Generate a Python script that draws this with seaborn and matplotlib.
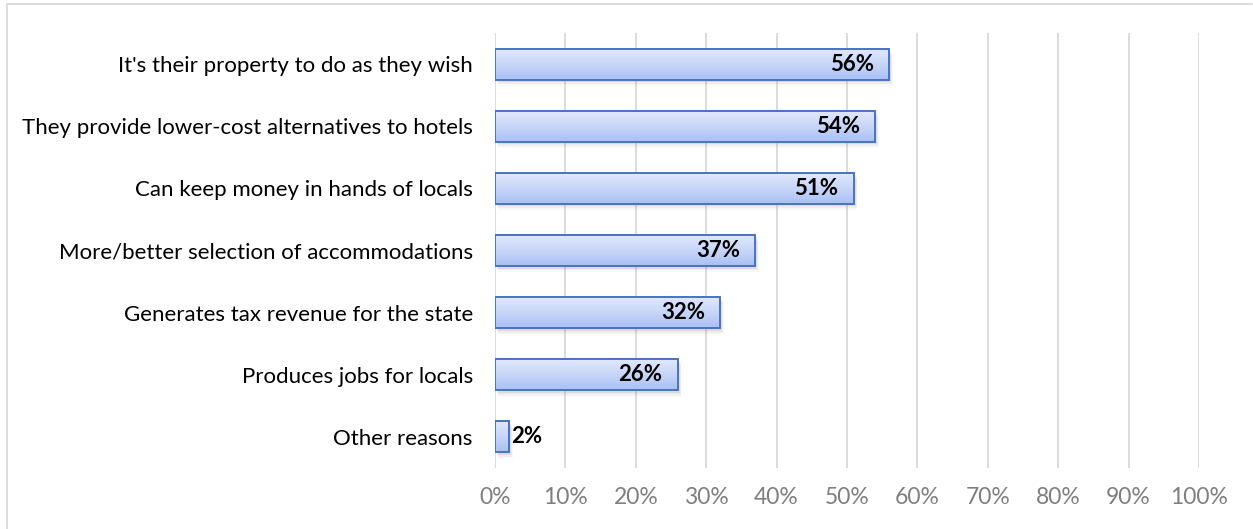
import matplotlib
matplotlib.use("Agg")
import matplotlib.pyplot as plt
import numpy as np
import pandas as pd
import seaborn as sns
from matplotlib.patches import Rectangle
from matplotlib.colors import LinearSegmentedColormap
from matplotlib.ticker import PercentFormatter

reasons = [
    "It's their property to do as they wish",
    "They provide lower-cost alternatives to hotels",
    "Can keep money in hands of locals",
    "More/better selection of accommodations",
    "Generates tax revenue for the state",
    "Produces jobs for locals",
    "Other reasons",
]
shares = [56, 54, 51, 37, 32, 26, 2]
x_ticks = list(range(0, 101, 10))

df = pd.DataFrame({"reason": reasons, "share": shares})

sns.set_theme(style="white")
plt.rcParams["font.family"] = ["Lato", "DejaVu Sans"]

fig = plt.figure(figsize=(12.53, 5.29), dpi=100)
ax = fig.add_axes([495 / 1253, 1 - 468 / 529, (1199 - 495) / 1253, (468 - 33) / 529])

sns.barplot(data=df, x="share", y="reason", orient="h", width=0.5,
            color="#c9d7f8", edgecolor="#4a72c4", linewidth=1.4, ax=ax, zorder=3)

grad = LinearSegmentedColormap.from_list("barfill", ["#e2e9fc", "#c8d6f8", "#a9c0f4"])
for p in ax.patches:
    x0, y0, w, h = p.get_x(), p.get_y(), p.get_width(), p.get_height()
    # soft drop shadow to the lower right
    for k, a in enumerate([0.10, 0.07, 0.04]):
        off = 0.04 + k * 0.03
        ax.add_patch(Rectangle((x0 + 0.25 + k * 0.12, y0 + off), w, h,
                               facecolor="#606060", edgecolor="none", alpha=a, zorder=2))
    img = ax.imshow(np.linspace(0, 1, 64).reshape(-1, 1), cmap=grad, aspect="auto",
                    extent=(x0, x0 + w, y0 + h, y0), zorder=3.5,
                    interpolation="bilinear")
    img.set_clip_path(p)
    p.set_facecolor("none")
    p.set_zorder(4)

ax.set_ylim(6.5, -0.5)
ax.set_xlim(0, 100)

for i, v in enumerate(shares):
    if v >= 10:
        ax.text(v - 2.2, i, f"{v}%", ha="right", va="center", fontsize=16,
                fontweight="bold", color="black", zorder=5)
    else:
        ax.text(v + 0.25, i, f"{v}%", ha="left", va="center", fontsize=16,
                fontweight="bold", color="black", zorder=5)

ax.set_xticks(x_ticks)
ax.xaxis.set_major_formatter(PercentFormatter(decimals=0))
ax.grid(axis="x", color="#d9d9d9", linewidth=1.3, zorder=0)
ax.set_axisbelow(True)
for s in ax.spines.values():
    s.set_visible(False)
ax.tick_params(axis="x", colors="#808080", labelsize=16.5, length=0, pad=14)
ax.tick_params(axis="y", colors="black", labelsize=16, length=0, pad=16)
for t in ax.get_xticklabels():
    t.set_color("#7f7f7f")
ax.set_xlabel("")
ax.set_ylabel("")

# outer chart frame (left and top edges)
fig.add_artist(plt.Line2D([6.5 / 1253, 6.5 / 1253], [0, 1 - 4 / 529],
                          transform=fig.transFigure, color="#d9d9d9", linewidth=1.3))
fig.add_artist(plt.Line2D([6.5 / 1253, 1252 / 1253], [1 - 4 / 529, 1 - 4 / 529],
                          transform=fig.transFigure, color="#d9d9d9", linewidth=1.3))

fig.savefig("out.png", dpi=100)
